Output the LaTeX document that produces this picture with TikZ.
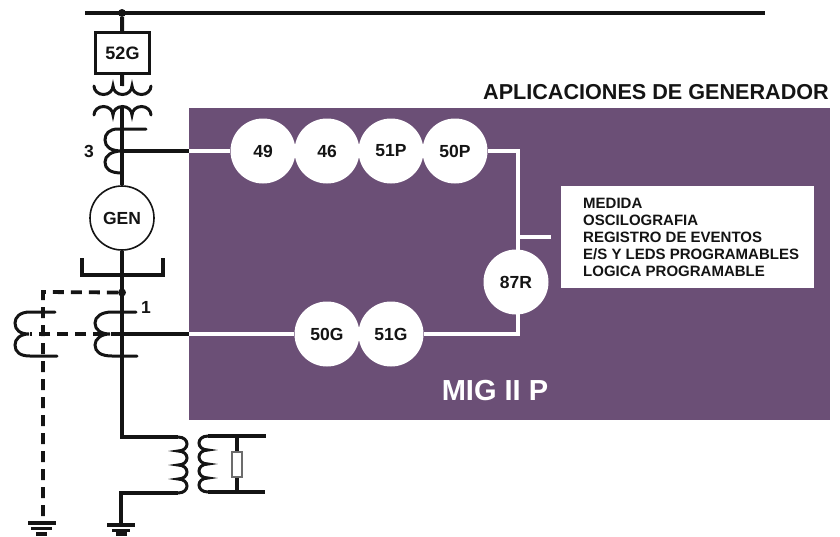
\documentclass[tikz,border=0pt]{standalone}
\usepackage{fontspec}
\setmainfont{Liberation Sans}
\definecolor{migpurple}{HTML}{6B4F76}
\definecolor{ink}{HTML}{141414}
\tikzset{
  wire/.style={draw=ink,line width=4pt},
  thinwire/.style={draw=ink,line width=3pt,line cap=round},
  dashwire/.style={draw=ink,line width=3.8pt,dash pattern=on 11pt off 7pt},
  sig/.style={draw=white,line width=3.2pt},
  relay/.style={circle,fill=white,draw=none,minimum size=65pt,inner sep=0pt,font=\bfseries\fontsize{17.5}{18}\selectfont,text=ink},
  lbl/.style={inner sep=0pt,font=\bfseries\fontsize{17.5}{18}\selectfont,text=ink},
  dotn/.style={circle,fill=ink,draw=none,minimum size=8pt,inner sep=0pt},
  pt/.style={coordinate}
}
\begin{document}
\begin{tikzpicture}[x=1pt,y=-1pt]
\useasboundingbox (0,0) rectangle (840,536);
% panel
\node[pt] (pa) at (189,108) {};
\node[pt] (pb) at (830,420) {};
\fill[migpurple] (pa) rectangle (pb);
\node[anchor=east,inner sep=0pt,font=\bfseries\fontsize{21.6}{22}\selectfont,text=ink] (title) at (829,92) {APLICACIONES DE GENERADOR};
\node[inner sep=0pt,font=\bfseries\fontsize{29}{30}\selectfont,text=white] (mig) at (495,391) {MIG II P};
% bus
\node[pt] (busL) at (85,13) {};
\node[pt] (busR) at (765,13) {};
\node[dotn] (busdot) at (122,13) {};
\draw[wire] (busL) -- (busR);
% 52G
\node[draw=ink,line width=3.2pt,minimum width=54pt,minimum height=41pt,inner sep=0pt,font=\bfseries\fontsize{18}{18}\selectfont,text=ink] (b52) at (122.5,53) {52G};
\draw[wire] (busdot) -- (b52);
% power transformer
\node[pt] (t1) at (122,86) {};
\node[pt] (t2) at (122,108) {};
\draw[wire] (b52) -- (t1);
\draw[thinwire] (94,86) arc[start angle=180,end angle=360,x radius=9.5pt,y radius=8.5pt]
  arc[start angle=180,end angle=360,x radius=9.5pt,y radius=8.5pt]
  arc[start angle=180,end angle=360,x radius=9.5pt,y radius=8.5pt];
\draw[thinwire] (94,115) arc[start angle=180,end angle=0,x radius=9.5pt,y radius=8.5pt]
  arc[start angle=180,end angle=0,x radius=9.5pt,y radius=8.5pt]
  arc[start angle=180,end angle=0,x radius=9.5pt,y radius=8.5pt];
% generator
\node[circle,draw=ink,line width=1.6pt,fill=white,minimum size=64pt,inner sep=0pt,font=\bfseries\fontsize{17.5}{18}\selectfont,text=ink] (gen) at (122,218) {GEN};
\draw[wire] (t2) -- (gen);
% CT 3
\node[lbl] (n3) at (89,151) {3};
\node[pt] (ct3) at (122,151) {};
\draw[thinwire] (146,129) -- (118,129) .. controls (109,129) and (105,134) .. (105,140) .. controls (105,147) and (111,151) .. (122,151)
  .. controls (111,151) and (105,156) .. (105,162) .. controls (105,169) and (110,173) .. (122,173);
% neutral bracket
\node[pt] (brA) at (82,258) {};
\node[pt] (brB) at (82,274.5) {};
\node[pt] (brC) at (163,274.5) {};
\node[pt] (brD) at (163,258) {};
\draw[wire,line join=miter] (brA) -- (brB) -- (brC) -- (brD);
% main vertical down
\node[pt] (lowc) at (122,437) {};
\node[pt] (pri1) at (178,437) {};
\node[pt] (pri2) at (178,493) {};
\node[pt] (lowg) at (121,493) {};
\node[dotn] (dot2) at (122,292.5) {};
\draw[wire,line join=miter] (gen) -- (lowc) -- (pri1);
% CT 1
\node[lbl] (n1) at (146,307) {1};
\node[pt] (ct1) at (122,334) {};
\draw[thinwire] (136,312) -- (112,312) .. controls (101,312) and (95,317) .. (95,323) .. controls (95,330) and (101,334) .. (110,334)
  .. controls (101,334) and (95,339) .. (95,345) .. controls (95,352) and (101,356) .. (112,356) -- (137,356);
% dashed CT
\node[pt] (dtop) at (43,292) {};
\node[pt] (dbot) at (43,520) {};
\node[pt] (dctL) at (30,334) {};
\draw[dashwire] (dot2) -- (dtop) -- (dbot);
\draw[dashwire] (ct1) -- (dctL);
\draw[thinwire] (55,312) -- (30,312) .. controls (20,312) and (15,317) .. (15,323) .. controls (15,330) and (20,334) .. (29,334)
  .. controls (20,334) and (15,339) .. (15,345) .. controls (15,352) and (20,356) .. (30,356) -- (57,356);
% signal wires in the panel
\node[relay] (r49) at (263,151) {49};
\node[relay] (r46) at (327,151) {46};
\node[relay] (r51P) at (391,151) {51P};
\node[relay] (r50P) at (455,151) {50P};
\node[relay] (r50G) at (327,334) {50G};
\node[relay] (r51G) at (391,334) {51G};
\node[relay] (r87) at (516,282) {87R};
\node[pt] (pin3) at (189,151) {};
\node[pt] (pin1) at (189,334) {};
\node[pt] (cor1) at (518,151) {};
\node[pt] (cor1b) at (518,252) {};
\node[pt] (cor2) at (518,334) {};
\node[pt] (cor2b) at (518,312) {};
\node[pt] (tap) at (518,237) {};
\node[pt] (tapE) at (551,237) {};
\draw[wire] (ct3) -- (pin3);
\draw[wire] (ct1) -- (pin1);
\draw[sig] (pin3) -- (r49);
\draw[sig] (r50P) -- (cor1) -- (cor1b);
\draw[sig] (tap) -- (tapE);
\draw[sig] (pin1) -- (r50G);
\draw[sig] (r51G) -- (cor2) -- (cor2b);
% info box
\node[anchor=north west,fill=white,minimum width=253pt,minimum height=102pt,inner sep=0pt] (info) at (561,186) {};
\node[anchor=north west,inner sep=0pt,align=left,font=\bfseries\fontsize{15}{16.9}\selectfont,text=ink] (infot) at (583,198) {MEDIDA\\OSCILOGRAFIA\\REGISTRO DE EVENTOS\\E/S Y LEDS PROGRAMABLES\\LOGICA PROGRAMABLE};
% neutral transformer
\draw[wire,line join=miter] (pri2) -- (lowg) -- (121,526);
\draw[thinwire] (178,437) .. controls (190,437) and (190,451) .. (178,451)
  .. controls (190,451) and (190,465) .. (178,465)
  .. controls (190,465) and (190,479) .. (178,479)
  .. controls (190,479) and (190,493) .. (178,493);
\node[pt] (sec1) at (208,436) {};
\node[pt] (sec2) at (208,492) {};
\node[pt] (sec1E) at (266,436) {};
\node[pt] (sec2E) at (265,492) {};
\draw[thinwire] (208,436) .. controls (196,436) and (196,450) .. (208,450)
  .. controls (196,450) and (196,464) .. (208,464)
  .. controls (196,464) and (196,478) .. (208,478)
  .. controls (196,478) and (196,492) .. (208,492);
\draw[wire] (sec1) -- (sec1E);
\draw[wire] (sec2) -- (sec2E);
\node[draw=gray!85!black,line width=1.2pt,fill=white,minimum width=10pt,minimum height=25pt,inner sep=0pt] (res) at (237,464.5) {};
\node[pt] (rt) at (237,436) {};
\node[pt] (rb) at (237,492) {};
\draw[wire] (rt) -- (res);
\draw[wire] (res) -- (rb);
% grounds
\draw[draw=ink,line width=3.6pt] (28,523) -- (56,523) (31,528.5) -- (52,528.5);
\draw[draw=ink,line width=4pt] (36,533.5) -- (47,533.5);
\draw[draw=ink,line width=3.6pt] (107,525) -- (135,525) (112,530.5) -- (130,530.5);
\draw[draw=ink,line width=4pt] (116,534) -- (127,534);
\end{tikzpicture}
\end{document}
